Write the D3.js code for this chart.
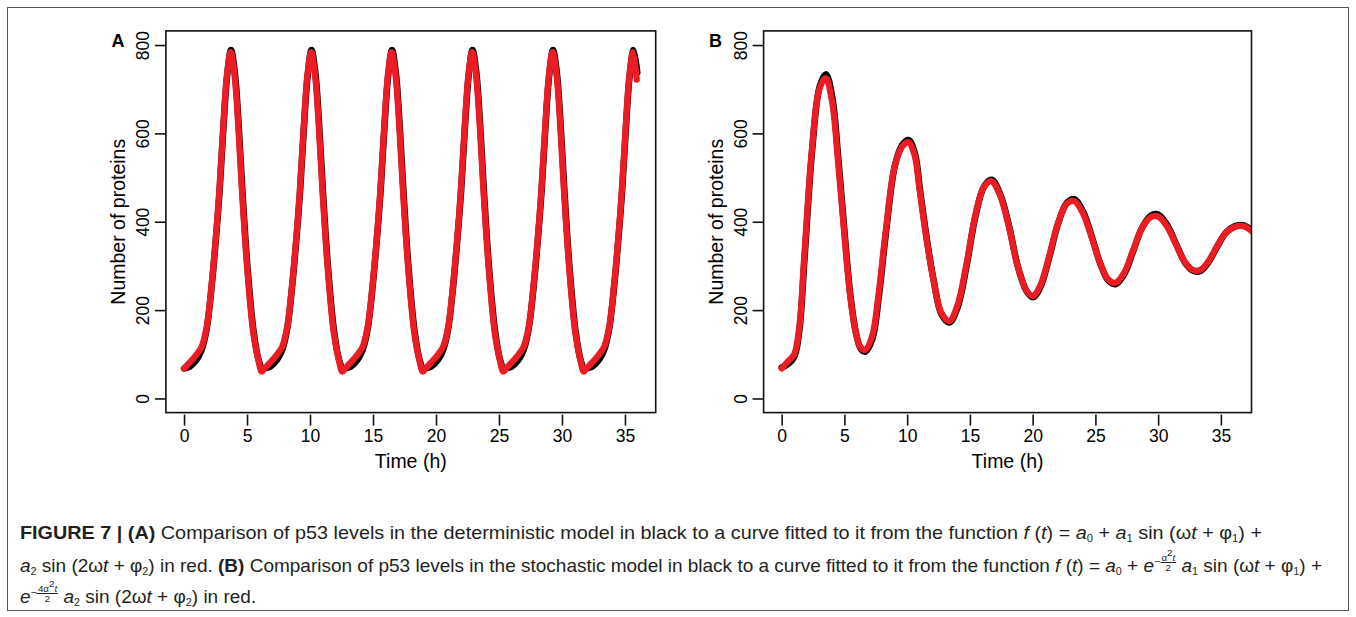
<!DOCTYPE html>
<html>
<head>
<meta charset="utf-8">
<script src="https://cdn.jsdelivr.net/npm/d3@7"></script>
<style>
  body { margin: 0; background: #fff; }
  #wrap { position: relative; width: 1356px; height: 617px; overflow: hidden; background: #fff; }
  #chart { position: absolute; left: 0; top: 0; }
  .cap {
    position: absolute; left: 20px; white-space: nowrap;
    font-family: "Liberation Sans", Arial, Helvetica, sans-serif;
    font-size: 18.5px; line-height: 20px; color: #231f20;
    transform-origin: 0 0;
  }
  .cap sub { font-size: 10.5px; vertical-align: -3px; line-height: 0; }
  .cap sup { font-size: 9.5px; vertical-align: 5px; line-height: 0; }
  .ex { display: inline-block; font-size: 10.5px; vertical-align: 7px; line-height: 1; }
  .frac { display: inline-flex; flex-direction: column; align-items: center; font-size: 9.5px; line-height: 9px; vertical-align: middle; }
  .frac .num { border-bottom: 0.8px solid #231f20; padding: 0 1px; }
</style>
</head>
<body>
<div id="wrap">
  <svg id="chart" width="1356" height="617"></svg>
  <div class="cap" id="cap1"><b>FIGURE 7 | (A)</b> Comparison of p53 levels in the deterministic model in black to a curve fitted to it from the function <i>f</i> (<i>t</i>) = <i>a</i><sub>0</sub> + <i>a</i><sub>1</sub> sin (ω<i>t</i> + φ<sub>1</sub>) +</div>
  <div class="cap" id="cap2"><i>a</i><sub>2</sub> sin (2ω<i>t</i> + φ<sub>2</sub>) in red. <b>(B)</b> Comparison of p53 levels in the stochastic model in black to a curve fitted to it from the function <i>f</i> (<i>t</i>) = <i>a</i><sub>0</sub> + <i>e</i><span class="ex">−<span class="frac"><span class="num">α<sup>2</sup><i>t</i></span><span>2</span></span></span> <i>a</i><sub>1</sub> sin (ω<i>t</i> + φ<sub>1</sub>) +</div>
  <div class="cap" id="cap3"><i>e</i><span class="ex">−<span class="frac"><span class="num">4α<sup>2</sup><i>t</i></span><span>2</span></span></span> <i>a</i><sub>2</sub> sin (2ω<i>t</i> + φ<sub>2</sub>) in red.</div>
</div>
<script>
// tick labels
const xTicks = [0, 5, 10, 15, 20, 25, 30, 35]
const yTicks = [0, 200, 400, 600, 800]

// (A) deterministic model, black, [time (h), proteins]
const detBlack = [
  [0, 68], [0.45, 72], [1.0, 88], [1.4, 110], [1.8, 158], [2.2, 256], [2.55, 368], [2.82, 468], [3.12, 610], [3.43, 733], [3.73, 789], [4.03, 738], [4.33, 622], [4.63, 472], [5.03, 300], [5.53, 150], [5.93, 86], [6.23, 65],
  [6.39, 68], [6.84, 72], [7.39, 88], [7.79, 110], [8.19, 158], [8.59, 256], [8.94, 368], [9.21, 468], [9.51, 610], [9.82, 733], [10.12, 789], [10.42, 738], [10.72, 622], [11.02, 472], [11.42, 300], [11.92, 150], [12.32, 86], [12.62, 65],
  [12.78, 68], [13.23, 72], [13.78, 88], [14.18, 110], [14.58, 158], [14.98, 256], [15.33, 368], [15.6, 468], [15.9, 610], [16.21, 733], [16.51, 789], [16.81, 738], [17.11, 622], [17.41, 472], [17.81, 300], [18.31, 150], [18.71, 86], [19.01, 65],
  [19.17, 68], [19.62, 72], [20.17, 88], [20.57, 110], [20.97, 158], [21.37, 256], [21.72, 368], [21.99, 468], [22.29, 610], [22.6, 733], [22.9, 789], [23.2, 738], [23.5, 622], [23.8, 472], [24.2, 300], [24.7, 150], [25.1, 86], [25.4, 65],
  [25.56, 68], [26.01, 72], [26.56, 88], [26.96, 110], [27.36, 158], [27.76, 256], [28.11, 368], [28.38, 468], [28.68, 610], [28.99, 733], [29.29, 789], [29.59, 738], [29.89, 622], [30.19, 472], [30.59, 300], [31.09, 150], [31.49, 86], [31.79, 65],
  [31.95, 68], [32.4, 72], [32.95, 88], [33.35, 110], [33.75, 158], [34.15, 256], [34.5, 368], [34.77, 468], [35.07, 610], [35.38, 733], [35.68, 789], [35.98, 738]
]

// (A) fitted curve, red
const detRed = [
  [0, 68], [0.4, 80], [1.0, 100], [1.4, 117], [1.8, 162], [2.2, 261], [2.55, 374], [2.8, 470], [3.1, 610], [3.4, 730], [3.7, 784], [4.0, 735], [4.3, 620], [4.6, 470], [5.0, 300], [5.5, 148], [5.9, 87], [6.17, 61],
  [6.39, 68], [6.79, 80], [7.39, 100], [7.79, 117], [8.19, 162], [8.59, 261], [8.94, 374], [9.19, 470], [9.49, 610], [9.79, 730], [10.09, 784], [10.39, 735], [10.69, 620], [10.99, 470], [11.39, 300], [11.89, 148], [12.29, 87], [12.56, 61],
  [12.78, 68], [13.18, 80], [13.78, 100], [14.18, 117], [14.58, 162], [14.98, 261], [15.33, 374], [15.58, 470], [15.88, 610], [16.18, 730], [16.48, 784], [16.78, 735], [17.08, 620], [17.38, 470], [17.78, 300], [18.28, 148], [18.68, 87], [18.95, 61],
  [19.17, 68], [19.57, 80], [20.17, 100], [20.57, 117], [20.97, 162], [21.37, 261], [21.72, 374], [21.97, 470], [22.27, 610], [22.57, 730], [22.87, 784], [23.17, 735], [23.47, 620], [23.77, 470], [24.17, 300], [24.67, 148], [25.07, 87], [25.34, 61],
  [25.56, 68], [25.96, 80], [26.56, 100], [26.96, 117], [27.36, 162], [27.76, 261], [28.11, 374], [28.36, 470], [28.66, 610], [28.96, 730], [29.26, 784], [29.56, 735], [29.86, 620], [30.16, 470], [30.56, 300], [31.06, 148], [31.46, 87], [31.73, 61],
  [31.95, 68], [32.35, 80], [32.95, 100], [33.35, 117], [33.75, 162], [34.15, 261], [34.5, 374], [34.75, 470], [35.05, 610], [35.35, 730], [35.65, 784], [35.93, 722]
]

// (B) stochastic model, black
const stoBlack = [
  [0, 70], [0.5, 78], [1.0, 94], [1.4, 152], [1.83, 320], [2.43, 562], [3.03, 706], [3.53, 734], [4.03, 682], [4.53, 538], [5.03, 370], [5.48, 233], [5.93, 147], [6.33, 111], [6.68, 106],
  [7.23, 135], [7.73, 227], [8.33, 380], [9.03, 528], [9.63, 575], [10.13, 585], [10.63, 553], [11.03, 471], [11.63, 349], [12.13, 265], [12.73, 191], [13.38, 172],
  [14.03, 207], [14.73, 299], [15.43, 411], [16.13, 480], [16.73, 495], [17.43, 461], [18.13, 389], [18.83, 298], [19.53, 242], [20.03, 229],
  [20.63, 253], [21.33, 320], [22.03, 396], [22.73, 443], [23.33, 451], [24.03, 422], [24.73, 365], [25.43, 302], [26.03, 267], [26.63, 259],
  [27.33, 283], [28.03, 335], [28.73, 387], [29.43, 414], [30.03, 416], [30.73, 392], [31.43, 350], [32.13, 308], [32.73, 290], [33.33, 288],
  [34.03, 309], [34.73, 345], [35.43, 376], [36.13, 390], [36.83, 392], [37.53, 379]
]

// (B) fitted curve, red
const stoRed = [
  [0, 68], [0.5, 84], [1.0, 100], [1.4, 160], [1.8, 320], [2.4, 560], [3.0, 700], [3.5, 725], [4.0, 675], [4.5, 535], [5.0, 370], [5.45, 235], [5.9, 150], [6.3, 115], [6.65, 110],
  [7.2, 140], [7.7, 230], [8.3, 380], [9.0, 525], [9.6, 570], [10.1, 580], [10.6, 550], [11.0, 470], [11.6, 350], [12.1, 268], [12.7, 195], [13.35, 175],
  [14.0, 210], [14.7, 300], [15.4, 410], [16.1, 478], [16.7, 492], [17.4, 460], [18.1, 390], [18.8, 300], [19.5, 245], [20.0, 232],
  [20.6, 255], [21.3, 320], [22.0, 395], [22.7, 440], [23.3, 447], [24.0, 420], [24.7, 365], [25.4, 305], [26.0, 270], [26.6, 262],
  [27.3, 285], [28.0, 335], [28.7, 385], [29.4, 410], [30.0, 412], [30.7, 390], [31.4, 350], [32.1, 310], [32.7, 292], [33.3, 290],
  [34.0, 310], [34.7, 345], [35.4, 375], [36.1, 388], [36.8, 390], [37.5, 378]
]

const RED = '#ec1c24'
const FONT = '"Liberation Sans", Arial, Helvetica, sans-serif'

const svg = d3.select('#chart')

// outer frame
svg.append('rect')
  .attr('x', 7.5).attr('y', 7.5)
  .attr('width', 1341).attr('height', 603)
  .attr('fill', 'none').attr('stroke', '#555').attr('stroke-width', 1)

function drawPanel (opts) {
  const top = 30.9
  const bottom = 412.6

  const x = d3.scaleLinear().domain([-1.44, 37.44]).range([opts.left, opts.right])
  const y = d3.scaleLinear().domain([-32, 832]).range([bottom, top])

  const g = svg.append('g')

  const clipId = 'clip-' + opts.label
  g.append('clipPath').attr('id', clipId)
    .append('rect')
    .attr('x', opts.left).attr('y', top)
    .attr('width', opts.right - opts.left).attr('height', bottom - top)

  const line = d3.line()
    .x((d) => x(d[0]))
    .y((d) => y(d[1]))
    .curve(d3.curveCatmullRom.alpha(0.5))

  const lines = g.append('g').attr('clip-path', `url(#${clipId})`)

  lines.append('path')
    .datum(opts.black)
    .attr('d', line)
    .attr('fill', 'none')
    .attr('stroke', '#000')
    .attr('stroke-width', 6.5)
    .attr('stroke-linejoin', 'round')
    .attr('stroke-linecap', 'round')

  lines.append('path')
    .datum(opts.red)
    .attr('d', line)
    .attr('fill', 'none')
    .attr('stroke', RED)
    .attr('stroke-width', 6.3)
    .attr('stroke-linejoin', 'round')
    .attr('stroke-linecap', 'round')

  // box
  g.append('rect')
    .attr('x', opts.left).attr('y', top)
    .attr('width', opts.right - opts.left).attr('height', bottom - top)
    .attr('fill', 'none').attr('stroke', '#111').attr('stroke-width', 1.6)

  // x axis
  const xAxisG = g.append('g')
    .attr('transform', `translate(0, ${bottom + 2})`)
    .call(d3.axisBottom(x).tickValues(xTicks).tickSize(11).tickSizeOuter(0))
  xAxisG.select('.domain').remove()
  xAxisG.selectAll('line').attr('stroke', '#111').attr('stroke-width', 1.6)
  xAxisG.selectAll('text')
    .attr('y', 21).attr('dy', '0.36em')
    .attr('fill', '#000')
    .style('font-family', FONT).style('font-size', '17.5px')

  // y axis, labels rotated as in R
  const yAxisG = g.append('g')
    .attr('transform', `translate(${opts.left}, 0)`)
    .call(d3.axisLeft(y).tickValues(yTicks).tickSize(11).tickSizeOuter(0))
  yAxisG.select('.domain').remove()
  yAxisG.selectAll('line').attr('stroke', '#111').attr('stroke-width', 1.6)
  yAxisG.selectAll('text')
    .attr('transform', 'rotate(-90)')
    .attr('x', 0).attr('y', -23).attr('dy', '0.36em')
    .attr('text-anchor', 'middle')
    .attr('fill', '#000')
    .style('font-family', FONT).style('font-size', '17.5px')

  // titles
  g.append('text')
    .attr('x', (opts.left + opts.right) / 2)
    .attr('y', bottom + 48).attr('dy', '0.36em')
    .attr('text-anchor', 'middle')
    .style('font-family', FONT).style('font-size', '19.5px')
    .text('Time (h)')

  g.append('text')
    .attr('transform', `translate(${opts.left - 48}, ${y(400)}) rotate(-90)`)
    .attr('dy', '0.36em')
    .attr('text-anchor', 'middle')
    .style('font-family', FONT).style('font-size', '19.5px')
    .text('Number of proteins')

  g.append('text')
    .attr('x', opts.left - 48).attr('y', 41).attr('dy', '0.36em')
    .attr('text-anchor', 'middle')
    .style('font-family', FONT).style('font-size', '18px').style('font-weight', 'bold')
    .text(opts.label)
}

drawPanel({ label: 'A', left: 165.9, right: 655.7, black: detBlack, red: detRed })
drawPanel({ label: 'B', left: 763.6, right: 1251.5, black: stoBlack, red: stoRed })

// caption lines: squeeze to the widths of the printed figure
const capTargets = [
  { id: '#cap1', top: 523, width: 1242 },
  { id: '#cap2', top: 553, width: 1302 },
  { id: '#cap3', top: 584, width: null }
]
let sx = 1
capTargets.forEach((c) => {
  const el = document.querySelector(c.id)
  el.style.top = c.top + 'px'
  const w = el.getBoundingClientRect().width
  if (c.width) sx = c.width / w
  el.style.transform = `scaleX(${sx})`
})
</script>
</body>
</html>
